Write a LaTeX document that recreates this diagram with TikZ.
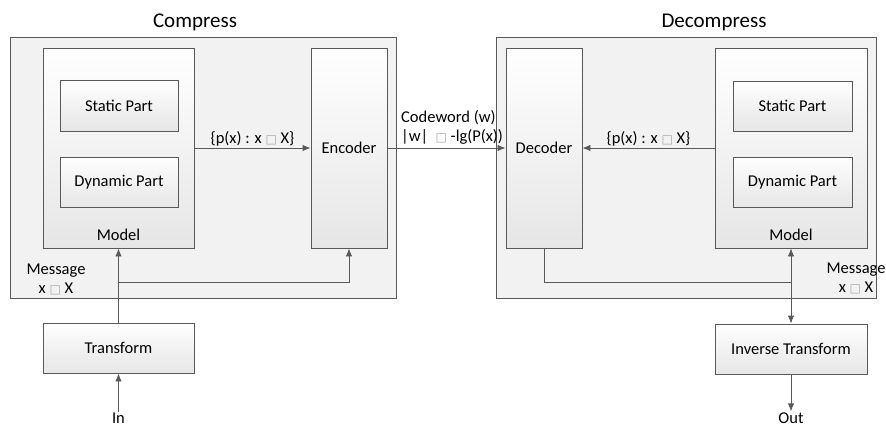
\documentclass[tikz,border=0pt]{standalone}
\usepackage{fontspec}
\setmainfont{Carlito}
\newfontfamily\symfont{DejaVu Sans}
\usetikzlibrary{arrows.meta,shadows}
\definecolor{linegray}{HTML}{595959}
\definecolor{panelgray}{HTML}{F2F2F2}
\definecolor{boxgray}{HTML}{E6E6E6}
\newcommand\bodyfont{\fontsize{16.5}{19}\selectfont}
\newcommand\titlefont{\fontsize{21}{24}\selectfont}
\newcommand\nobox{{\fontsize{12}{12}\symfont\color{gray!70}□}}
\tikzset{
  panel/.style = {draw=linegray, fill=panelgray, line width=0.9pt,
    inner sep=0pt, drop shadow={opacity=0.15, shadow xshift=1pt, shadow yshift=-1pt}},
  block/.style = {draw=linegray, line width=0.9pt, top color=white,
    bottom color=boxgray, inner sep=0pt, align=center, font=\bodyfont,
    drop shadow={opacity=0.15, shadow xshift=1pt, shadow yshift=-1pt}},
  heading/.style = {font=\titlefont},
  note/.style = {font=\bodyfont, align=center, inner sep=1pt},
  link/.style = {draw=linegray, line width=0.9pt}
}

\begin{document}
\begin{tikzpicture}[
        x=1pt, y=-1pt,
        >={Latex[length=8pt,width=6.5pt]}
    ]
    \useasboundingbox (0,0) rectangle (886,426);
    % compress side
    \node [heading] (ctitle) at (195,22) {Compress};
    \node [panel, minimum width=386pt, minimum height=261pt] (compress) at (203,167.5) {};
    \node [block, minimum width=151pt, minimum height=200pt,
        label={[note, anchor=south, yshift=7pt]south:Model}] (cmodel) at (118.5,148) {};
    \node [block, minimum width=118pt, minimum height=51pt] (cstatic) at (119,105.5) {Static Part};
    \node [block, minimum width=118pt, minimum height=50pt] (cdynamic) at (119,182) {Dynamic Part};
    \node [block, minimum width=76pt, minimum height=200pt] (encoder) at (349,148) {Encoder};
    \node [block, minimum width=151pt, minimum height=50pt] (transform) at (118.5,348) {Transform};
    \node [note] (cmsg) at (56,279.5) {Message\\x \nobox{} X};
    \node [note] (inlbl) at (118.5,418) {In};
    \coordinate (cjoin) at (118.5,282);
    % decompress side
    \node [heading] (dtitle) at (714,22) {Decompress};
    \node [panel, minimum width=380pt, minimum height=261pt] (decompress) at (686,167.5) {};
    \node [block, minimum width=76pt, minimum height=200pt] (decoder) at (544,148) {Decoder};
    \node [block, minimum width=152pt, minimum height=200pt,
        label={[note, anchor=south, yshift=7pt]south:Model}] (dmodel) at (791,148) {};
    \node [block, minimum width=119pt, minimum height=50pt] (dstatic) at (792.5,106) {Static Part};
    \node [block, minimum width=119pt, minimum height=50pt] (ddynamic) at (792.5,182) {Dynamic Part};
    \node [block, minimum width=152pt, minimum height=50pt] (invtransform) at (791,349) {Inverse Transform};
    \node [note] (dmsg) at (856,278) {Message\\x \nobox{} X};
    \node [note] (outlbl) at (791,418) {Out};
    \coordinate (djoin) at (791,282);
    % connectors
    \draw [link, ->] (cmodel.east) -- node [note, above] {\{p(x) : x \nobox{} X\}} (encoder.west);
    \draw [link, ->] (encoder.east) -- (decoder.west);
    \node [note, align=left, anchor=west] (codeword) at (400,127.5) {Codeword (w)\\{}|w|\ \ \nobox{} -lg(P(x))};
    \draw [link, ->] (dmodel.west) -- node [note, above] {\{p(x) : x \nobox{} X\}} (decoder.east);
    \draw [link, ->] (inlbl.north) -- (transform.south);
    \draw [link, ->] (transform.north) -- (cmodel.south);
    \draw [link, ->] (cjoin) -| (encoder.south);
    \draw [link] (decoder.south) |- (djoin);
    \draw [link, <->] (dmodel.south) -- (invtransform.north);
    \draw [link, ->] (invtransform.south) -- (outlbl.north);
\end{tikzpicture}
\end{document}
